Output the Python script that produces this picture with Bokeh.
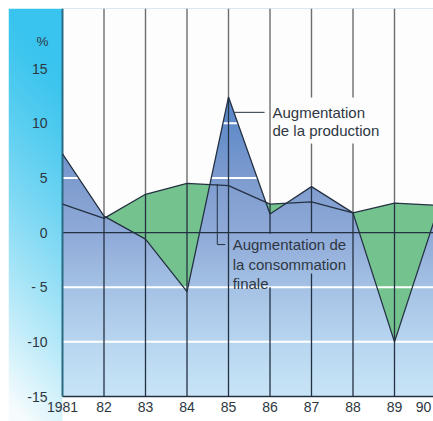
import numpy as np
from bokeh.plotting import figure
from bokeh.models import FixedTicker, LinearAxis, Range1d
from bokeh.core.properties import value
from bokeh.embed import file_html
from bokeh.resources import INLINE

# ---------------- data ----------------
years = [1981, 1982, 1983, 1984, 1985, 1986, 1987, 1988, 1989, 1990]
year_labels = ["1981", "82", "83", "84", "85", "86", "87", "88", "89", "90"]
production = [7.2, 1.5, -0.6, -5.4, 12.4, 1.7, 4.2, 1.8, -10.0, 1.6]
consumption = [2.6, 1.3, 3.5, 4.5, 4.3, 2.6, 2.8, 1.8, 2.7, 2.5]
y_ticks = [-15, -10, -5, 0, 5, 10, 15]
y_tick_labels = ["-15", "-10", "- 5", "0", "5", "10", "15"]
white_grid = [-10, -5, 5, 10]
label_production = ["Augmentation", "de la production"]
label_consumption = ["Augmentation de", "la consommation", "finale"]
unit_label = "%"

# ---------------- layout ----------------
MARGIN = 8
W, H = 425, 413            # frame size
PX_YEAR = 41.5
LEFT_PAD = 54
X0 = years[0] - LEFT_PAD / PX_YEAR
X1 = X0 + W / PX_YEAR
PX_UNIT = 10.93
Y1 = 20.5
Y0 = Y1 - H / PX_UNIT
YMIN = y_ticks[0]
FONT = value("Liberation Sans")
DARK = "#243142"
GRAY = "#6e6e6e"
TEXT = "#2e3742"

p = figure(width=W + MARGIN, height=H + MARGIN, x_range=Range1d(X0, X1), y_range=Range1d(Y0, Y1),
           output_backend="svg", toolbar_location=None,
           x_axis_location=None, y_axis_location=None,
           min_border_left=MARGIN, min_border_top=MARGIN, min_border_right=0, min_border_bottom=0,
           outline_line_color=None, background_fill_color="white",
           border_fill_color="white")
p.xgrid.visible = False
p.ygrid.visible = False


def rgba_image(rgb):
    h, w, _ = rgb.shape
    img = np.empty((h, w), dtype=np.uint32)
    v = img.view(dtype=np.uint8).reshape((h, w, 4))
    v[:, :, :3] = np.clip(rgb, 0, 255).astype(np.uint8)
    v[:, :, 3] = 255
    return img


# left cyan strip
sw = LEFT_PAD
rows = np.arange(H)
cols = np.arange(sw)
yfrac = 1 - (rows + 0.5) / H          # 0 top, 1 bottom
xfrac = (cols + 0.5) / sw
wgt = np.clip(yfrac[:, None] * 1.05 - 0.15 * xfrac[None, :], 0, 1) ** 1.25
cyan = np.array([56, 196, 238], float)
white = np.array([246, 252, 254], float)
strip = cyan[None, None, :] * (1 - wgt[:, :, None]) + white[None, None, :] * wgt[:, :, None]
p.image_rgba(image=[rgba_image(strip)], x=X0, y=Y0, dw=years[0] - X0, dh=Y1 - Y0)

# main blue gradient
stops_v = [-15, -10, -5, 0, 5, 10, 12, 20.5]
stops_c = np.array([(200, 229, 247), (184, 214, 240), (165, 194, 229), (143, 170, 216),
                    (126, 156, 207), (98, 140, 202), (89, 137, 202), (72, 126, 196)], float)
N = int(round((Y1 - YMIN) * PX_UNIT))
vals = YMIN + (np.arange(N) + 0.5) / N * (Y1 - YMIN)
grad = np.stack([np.interp(vals, stops_v, stops_c[:, k]) for k in range(3)], axis=-1)[:, None, :]
p.image_rgba(image=[rgba_image(grad)], x=years[0], y=YMIN, dw=X1 - years[0], dh=Y1 - YMIN)


def with_crossings(x, a, b):
    xs, ya, yb = [x[0]], [a[0]], [b[0]]
    for i in range(len(x) - 1):
        d0, d1 = b[i] - a[i], b[i + 1] - a[i + 1]
        if d0 * d1 < 0:
            t = d0 / (d0 - d1)
            yc = a[i] + t * (a[i + 1] - a[i])
            xs.append(x[i] + t * (x[i + 1] - x[i]))
            ya.append(yc)
            yb.append(yc)
        xs.append(x[i + 1]); ya.append(a[i + 1]); yb.append(b[i + 1])
    return np.array(xs, float), np.array(ya, float), np.array(yb, float)


xs, ya, yb = with_crossings(years, production, consumption)
top = np.maximum(ya, yb)
p.varea(x=xs, y1=ya, y2=top, fill_color="#74c38f")

# white horizontal lines in coloured area
p.segment(x0=[years[0]] * len(white_grid), y0=white_grid, x1=[X1] * len(white_grid),
          y1=white_grid, line_color="white", line_width=2)

# white area above curves
p.varea(x=xs, y1=top, y2=Y1, fill_color="#fdfdfd")

# zero and bottom lines
p.segment(x0=[years[0]] * 2, y0=[0, YMIN], x1=[X1] * 2, y1=[0, YMIN],
          line_color=DARK, line_width=1.3)

# vertical lines (with gaps behind the annotation text)
gaps = {1986: [(-5.0, -0.1)], 1987: [(-3.75, -0.05), (8.14, 12.35)], 1988: [(8.14, 12.35)]}


def split(a, b, gl):
    segs = [(a, b)]
    for g0, g1 in gl:
        nxt = []
        for s0, s1 in segs:
            if g1 <= s0 or g0 >= s1:
                nxt.append((s0, s1))
            else:
                if g0 > s0:
                    nxt.append((s0, g0))
                if g1 < s1:
                    nxt.append((g1, s1))
        segs = nxt
    return segs


dk = {"x0": [], "y0": [], "x1": [], "y1": []}
gr = {"x0": [], "y0": [], "x1": [], "y1": []}
for i, yr in enumerate(years[1:], start=1):
    if yr > X1:
        continue
    m = max(production[i], consumption[i])
    for d, (a, b) in ((dk, (YMIN, m)), (gr, (m, Y1))):
        for s0, s1 in split(a, b, gaps.get(yr, [])):
            d["x0"].append(yr); d["x1"].append(yr); d["y0"].append(s0); d["y1"].append(s1)
p.segment(**dk, line_color=DARK, line_width=1.3)
p.segment(**gr, line_color=GRAY, line_width=1.4)
p.segment(x0=[years[0]], y0=[YMIN], x1=[years[0]], y1=[Y1], line_color="#2a6a82", line_width=2)

# curves
p.line(years, production, line_color=DARK, line_width=1.3)
p.line(years, consumption, line_color=DARK, line_width=1.3)

# annotations
p.line([1985.14, 1985.87], [11.0, 11.0], line_color=DARK, line_width=1)
p.text(x=[1986.06] * 2, y=[11.0, 9.3], text=label_production, text_font=FONT,
       text_font_size="15px", text_baseline="middle", text_color=TEXT)
p.line([1984.73, 1984.73, 1984.92], [4.45, -1.1, -1.1], line_color=DARK, line_width=1)
p.text(x=[1985.1] * 3, y=[-1.1, -2.93, -4.67], text=label_consumption, text_font=FONT,
       text_font_size="15px", text_baseline="middle", text_color=TEXT)
p.text(x=[years[0]], y=[17.5], text=[unit_label], x_offset=-14, text_font=FONT,
       text_font_size="13.5px", text_baseline="middle", text_align="right", text_color=TEXT)

# axes
yax = LinearAxis(fixed_location=years[0], ticker=FixedTicker(ticks=y_ticks),
                 major_label_overrides={t: l for t, l in zip(y_ticks, y_tick_labels)},
                 major_tick_in=0, major_tick_out=0, minor_tick_in=0, minor_tick_out=0,
                 axis_line_color=None, major_label_standoff=15,
                 major_label_text_font="Liberation Sans", major_label_text_font_size="14px",
                 major_label_text_color=TEXT)
p.add_layout(yax, "left")

xpos = [float(min(y, X1 - 0.24)) for y in years]
xax = LinearAxis(fixed_location=YMIN, ticker=FixedTicker(ticks=xpos),
                 major_label_overrides={t: l for t, l in zip(xpos, year_labels)},
                 major_tick_in=0, major_tick_out=0, minor_tick_in=0, minor_tick_out=0,
                 axis_line_color=None, major_label_standoff=5,
                 major_label_text_font="Liberation Sans", major_label_text_font_size="14px",
                 major_label_text_color=TEXT)
p.add_layout(xax, "below")

open("out.html", "w").write(file_html(p, INLINE))
